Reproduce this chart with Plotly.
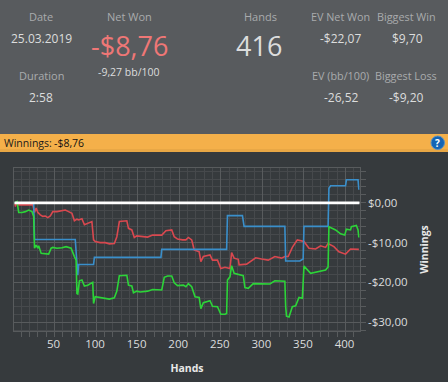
import plotly.graph_objects as go

W, H = 448, 382

red_x = [2,3,5,7,24,26,28,30,33,36,39,42,45,48,53,57,63,67,71,74,77,79,83,86,91,95,97,99,105,111,116,122,125,128,137,139,143,146,149,155,162,168,174,179,184,191,194,198,204,208,211,215,218,224,226,229,237,240,246,250,255,261,263,266,271,272,281,287,292,299,307,315,323,327,331,336,342,350,356,364,370,376,379,386,392,400,406,416]
red_y = [-0.1,-0.9,0.1,-0.5,-0.5,-2.4,-1.3,-2.4,-3.0,-3.4,-3.3,-3.7,-3.3,-2.2,-2.2,-2.0,-1.8,-2.2,-2.6,-4.5,-4.1,-4.3,-4.0,-5.5,-5.1,-4.7,-9.3,-9.7,-10.0,-10.0,-10.3,-10.2,-8.5,-4.7,-4.5,-6.4,-6.8,-8.7,-8.3,-8.5,-8.6,-8.1,-8.1,-8.1,-7.0,-6.8,-8.5,-9.1,-9.3,-9.3,-8.7,-9.3,-11.8,-12.3,-14.8,-13.5,-13.1,-14.4,-14.4,-16.5,-16.2,-16.5,-12.5,-13.9,-14.2,-15.6,-15.4,-14.5,-13.8,-14.1,-14.4,-13.5,-13.9,-13.5,-13.5,-11.2,-9.3,-9.7,-11.4,-11.6,-10.8,-11.2,-10.2,-11.0,-12.3,-12.9,-11.6,-11.7]

green_x = [2,5,7,11,15,19,23,25,26,28,30,31,34,37,43,46,48,53,59,64,70,74,76,77,78,80,83,86,90,96,97,99,105,111,116,122,125,128,137,139,143,145,149,153,162,168,174,179,182,186,191,194,198,205,208,211,215,219,224,226,229,237,240,246,250,255,257,258,261,263,266,277,279,283,289,299,309,315,327,328,329,332,336,340,344,348,350,358,368,376,379,380,388,394,399,401,406,407,413,415,416]
green_y = [-0.1,0.3,-2.4,-2.4,-2.2,-1.8,-2.2,-3.4,-11.4,-10.6,-11.4,-10.8,-12.7,-12.8,-12.9,-11.4,-11.2,-11.4,-11.3,-11.0,-11.4,-13.5,-14.4,-22.8,-22.9,-19.6,-19.4,-20.9,-20.7,-20.0,-25.3,-23.6,-23.8,-23.9,-24.2,-23.9,-22.2,-18.3,-18.2,-20.7,-20.9,-22.6,-22.2,-22.4,-22.2,-21.8,-21.9,-21.9,-18.7,-18.4,-18.4,-20.1,-20.8,-20.7,-21.1,-20.3,-21.1,-23.6,-23.8,-26.6,-25.1,-24.6,-26.0,-26.1,-28.0,-28.0,-27.8,-19.4,-18.6,-15.8,-17.7,-18.3,-21.3,-21.5,-20.3,-20.3,-20.4,-19.6,-19.7,-26.1,-28.5,-28.7,-26.1,-25.9,-23.8,-24.0,-15.9,-17.7,-17.3,-16.9,-16.1,-6.0,-6.8,-7.8,-8.1,-6.6,-6.8,-6.0,-5.7,-6.8,-8.7]

blue_x = [2,25,26,75,78,79,97,98,178,179,257,258,276,278,327,328,345,349,350,379,380,382,400,401,415,416]
blue_y = [0,0,-9.2,-9.2,-18.2,-15.5,-15.5,-13.7,-13.7,-11.7,-11.7,-3.2,-3.2,-5.9,-5.9,-14.6,-14.6,-14.1,-5.9,-5.9,3.7,4.3,4.3,5.8,5.8,3.3]

x_ticks = [50, 100, 150, 200, 250, 300, 350, 400]
y_ticks = [0, -10, -20, -30]
y_labels = ["$0,00", "-$10,00", "-$20,00", "-$30,00"]

FONT = "Open Sans"
GRID = "#585b5d"
MINOR = "#46494c"
RED, BLUE, GREEN = "#d9484f", "#3a8fcb", "#2cd438"


def px(x):
    return x / W


def py(y):
    return 1 - y / H


fig = go.Figure()
fig.add_trace(go.Scatter(x=red_x, y=red_y, mode="lines", line=dict(color=RED, width=1.6)))
fig.add_trace(go.Scatter(x=blue_x, y=blue_y, mode="lines", line=dict(color=BLUE, width=1.6)))
fig.add_trace(go.Scatter(x=green_x, y=green_y, mode="lines", line=dict(color=GREEN, width=1.6)))
fig.add_trace(go.Scatter(x=[1.7, 417], y=[0, 0], mode="lines", line=dict(color="#ffffff", width=2.8)))

shapes = [
    dict(type="rect", xref="paper", yref="paper", x0=0, x1=1, y0=py(134), y1=1, fillcolor="#585b5e", line_width=0, layer="below"),
    dict(type="rect", xref="paper", yref="paper", x0=0, x1=1, y0=py(152), y1=py(134), fillcolor="#f4b04a", line_width=0, layer="below"),
    dict(type="rect", xref="paper", yref="paper", x0=0, x1=1, y0=py(152), y1=py(149), fillcolor="#e8a745", line_width=0, layer="below"),
    dict(type="circle", xref="paper", yref="paper", x0=px(431), x1=px(444.5), y0=py(149.5), y1=py(136), fillcolor="#1464b4", line=dict(color="#5a93c4", width=1), layer="above"),
]

LABEL = "#a9abad"
VALUE = "#dcdddd"
texts = [
    ("Date", 41, 16.5, 11, LABEL), ("25.03.2019", 41, 38.5, 12, VALUE),
    ("Duration", 41, 75.5, 11, LABEL), ("2:58", 41, 97, 12, VALUE),
    ("Net Won", 129, 16.5, 11, LABEL), ("-$8,76", 129, 46, 27, "#ef7776"),
    ("-9,27 bb/100", 129, 72, 10.5, VALUE),
    ("Hands", 260, 16.5, 11, LABEL), ("416", 259, 46, 27, VALUE),
    ("EV Net Won", 340, 16.5, 10.8, LABEL), ("-$22,07", 340, 38.5, 12, VALUE),
    ("EV (bb/100)", 340, 75.5, 10.8, LABEL), ("-26,52", 341, 97, 12, VALUE),
    ("Biggest Win", 406, 16.5, 10.8, LABEL), ("$9,70", 407, 38.5, 12, VALUE),
    ("Biggest Loss", 406, 75.5, 10.8, LABEL), ("-$9,20", 406, 97, 12, VALUE),
]
annotations = [
    dict(text=t, x=px(x), y=py(y), xref="paper", yref="paper", xanchor="center", yanchor="middle",
         showarrow=False, font=dict(family=FONT, size=s, color=c))
    for t, x, y, s, c in texts
]
annotations += [
    dict(text="Winnings:", x=px(1.5), y=py(143), xref="paper", yref="paper", xanchor="left", yanchor="middle",
         showarrow=False, font=dict(family=FONT, size=10.5, color="#1a1a1a")),
    dict(text="-$8,76", x=px(52), y=py(143), xref="paper", yref="paper", xanchor="left", yanchor="middle",
         showarrow=False, font=dict(family=FONT, size=10.5, color="#111111")),
    dict(text="<b>?</b>", x=px(437.7), y=py(142.7), xref="paper", yref="paper", xanchor="center", yanchor="middle",
         showarrow=False, font=dict(family=FONT, size=10, color="#ffffff")),
]

fig.update_layout(
    width=W, height=H, autosize=False, showlegend=False,
    margin=dict(l=0, r=0, t=0, b=0, pad=0),
    paper_bgcolor="#363a3d", plot_bgcolor="#363a3d",
    font=dict(family=FONT, color="#dcdddd", size=11),
    shapes=shapes, annotations=annotations,
    xaxis=dict(
        domain=[px(14.3), px(359.7)], range=[1.7, 417], tickmode="array", tickvals=x_ticks,
        ticks="", showgrid=True, gridcolor=GRID, gridwidth=1, zeroline=False,
        showline=True, linecolor=GRID, mirror=True, ticklabelstandoff=2, ticklabelshift=-1,
        tickfont=dict(family=FONT, size=11.5, color="#dcdddd"),
        minor=dict(dtick=10, tick0=0, showgrid=True, gridcolor=MINOR, ticks="outside", ticklen=5, tickcolor=GRID),
        title=dict(text="<b>Hands</b>", font=dict(family=FONT, size=10.5, color="#e8e8e8"), standoff=14),
    ),
    yaxis=dict(
        domain=[py(331.3), py(167.5)], range=[-32.3, 8.9], side="right", tickmode="array",
        tickvals=y_ticks, ticktext=y_labels,
        ticks="", showgrid=True, gridcolor=GRID, gridwidth=1, zeroline=False,
        showline=True, linecolor=GRID, mirror=True, ticklabelstandoff=5,
        tickfont=dict(family=FONT, size=11.5, color="#dcdddd"),
        minor=dict(dtick=2, tick0=0, showgrid=True, gridcolor=MINOR, ticks="outside", ticklen=5, tickcolor=GRID),
        title=dict(text="<b>Winnings</b>", font=dict(family=FONT, size=10.5, color="#e8e8e8"), standoff=14),
    ),
)

fig.write_html("out.html", config={"displayModeBar": False},
               post_script="document.body.style.margin='0';")
